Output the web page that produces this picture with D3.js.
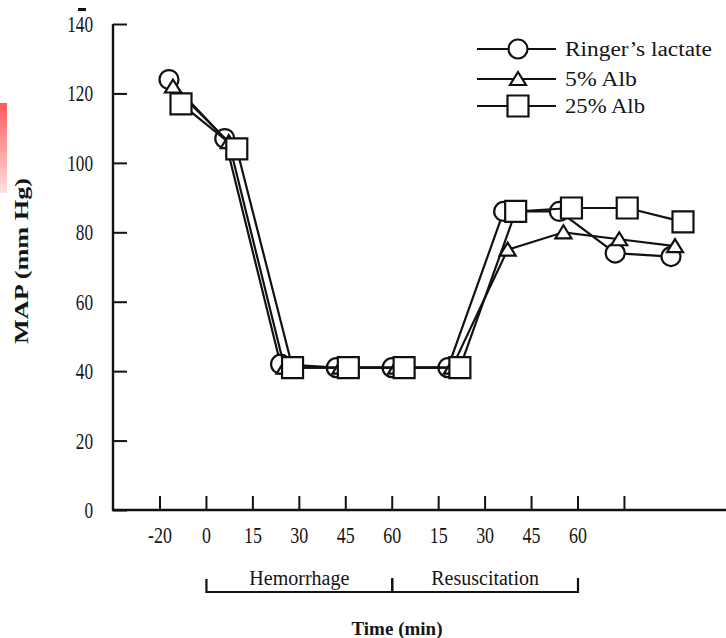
<!DOCTYPE html>
<html>
<head>
<meta charset="utf-8">
<script src="https://cdn.jsdelivr.net/npm/d3@7"></script>
<style>
  html, body { margin: 0; padding: 0; background: #fff; }
  svg { display: block; }
  text { font-family: "Liberation Serif", "Times New Roman", serif; fill: #151515; }
</style>
</head>
<body>
<svg id="chart" width="726" height="638"></svg>
<script>
// Time points (minutes) across the two study phases
const timeKeys   = ["b-20", "h0", "h15", "h30", "h45", "h60", "r15", "r30", "r45", "r60"];
const timeLabels = ["-20", "0", "15", "30", "45", "60", "15", "30", "45", "60"];

// Mean arterial pressure (mm Hg) per group
const ringers = [124, 107, 42, 41, 41, 41, 86, 86, 74, 73];
const alb5    = [122, 106, 41, 41, 41, 41, 75, 80, 78, 76];
const alb25   = [117, 104, 41, 41, 41, 41, 86, 87, 87, 83];

const seriesNames = ["Ringer\u2019s lactate", "5% Alb", "25% Alb"];
const yTicks = [0, 20, 40, 60, 80, 100, 120, 140];

const phases = [
  { name: "Hemorrhage",    from: 1, to: 5 },
  { name: "Resuscitation", from: 5, to: 9 }
];

const series = [
  { name: seriesNames[0], values: ringers, shape: "circle",   dx: -12 },
  { name: seriesNames[1], values: alb5,    shape: "triangle", dx: -8 },
  { name: seriesNames[2], values: alb25,   shape: "square",   dx: 0 }
];

const svg = d3.select("#chart");
const ink = "#111";

// narrow the glyphs of a text selection horizontally (tall, condensed type)
function condense(sel, factor) {
  sel.each(function () {
    const w = this.getComputedTextLength();
    d3.select(this).attr("textLength", w * factor).attr("lengthAdjust", "spacingAndGlyphs");
  });
}

// scales
const y = d3.scaleLinear().domain([0, 140]).range([510, 24]);
const xTick = d3.scaleLinear().domain([0, 9]).range([160, 578]);
const xData = d3.scalePoint().domain(timeKeys).range([181, 683]);

// y axis
const yAxis = d3.axisRight(y).tickValues(yTicks).tickSize(14).tickFormat("");
const gy = svg.append("g").attr("transform", "translate(113,0)").call(yAxis);
gy.select(".domain").remove();
gy.selectAll(".tick line").attr("stroke", ink).attr("stroke-width", 2);
svg.append("line").attr("x1", 113).attr("x2", 113).attr("y1", y(140)).attr("y2", y(0) + 1)
  .attr("stroke", ink).attr("stroke-width", 2.4);
svg.append("g").selectAll("text").data(yTicks).join("text")
  .attr("x", 93).attr("y", d => y(d) + 8)
  .attr("text-anchor", "end").attr("font-size", 23)
  .text(d => d)
  .call(condense, 0.75);

// x axis: baseline, inward ticks, labels
svg.append("line").attr("x1", 112).attr("x2", 726).attr("y1", y(0)).attr("y2", y(0))
  .attr("stroke", ink).attr("stroke-width", 2.4);
const tickIdx = d3.range(0, 11);
svg.append("g").selectAll("line").data(tickIdx).join("line")
  .attr("x1", d => xTick(d)).attr("x2", d => xTick(d))
  .attr("y1", y(0)).attr("y2", y(0) - 14)
  .attr("stroke", ink).attr("stroke-width", 2);
svg.append("g").selectAll("text").data(timeLabels).join("text")
  .attr("x", (d, i) => xTick(i)).attr("y", 543)
  .attr("text-anchor", "middle").attr("font-size", 23)
  .text(d => d)
  .call(condense, 0.78);

// phase brackets
const by = 592;
const gp = svg.append("g");
phases.forEach(p => {
  gp.append("path")
    .attr("d", `M${xTick(p.from)},${by - 13}V${by}H${xTick(p.to)}V${by - 14}`)
    .attr("fill", "none").attr("stroke", ink).attr("stroke-width", 2.2);
  gp.append("text")
    .attr("x", (xTick(p.from) + xTick(p.to)) / 2).attr("y", by - 7)
    .attr("text-anchor", "middle").attr("font-size", 20)
    .text(p.name);
});

// axis titles
svg.append("text").attr("x", 397).attr("y", 635)
  .attr("text-anchor", "middle").attr("font-size", 19).attr("font-weight", "bold")
  .text("Time (min)");
svg.append("text")
  .attr("transform", "translate(28,261) rotate(-90)")
  .attr("text-anchor", "middle").attr("font-size", 19).attr("font-weight", "bold")
  .attr("textLength", 166).attr("lengthAdjust", "spacingAndGlyphs")
  .text("MAP (mm Hg)");

// marker drawing
function drawMarker(g, shape, cx, cy) {
  const m = g.append(shape === "circle" ? "circle" : "path")
    .attr("fill", "#fff").attr("stroke", ink).attr("stroke-width", 2.2);
  if (shape === "circle") {
    m.attr("cx", cx).attr("cy", cy).attr("r", 9.5);
  } else if (shape === "triangle") {
    m.attr("d", `M${cx},${cy - 7}L${cx + 8},${cy + 6}L${cx - 8},${cy + 6}Z`);
  } else {
    m.attr("d", `M${cx - 10.5},${cy - 10.5}h21v21h-21Z`);
  }
}

const line = d3.line();
const plot = svg.append("g");
series.forEach(s => {
  const pts = s.values.map((v, i) => [xData(timeKeys[i]) + s.dx, y(v)]);
  const g = plot.append("g");
  g.append("path").attr("d", line(pts))
    .attr("fill", "none").attr("stroke", ink).attr("stroke-width", 2.2);
  pts.forEach(p => drawMarker(g, s.shape, p[0], p[1]));
});

// legend
const legendRows = [49, 79, 106];
const legendWidths = [147, 72, 80];
const lg = svg.append("g");
series.forEach((s, i) => {
  const ly = legendRows[i];
  lg.append("line").attr("x1", 477).attr("x2", 556).attr("y1", ly).attr("y2", ly)
    .attr("stroke", ink).attr("stroke-width", 2.2);
  drawMarker(lg, s.shape, 518, ly);
  lg.append("text").attr("x", 565).attr("y", ly + 7).attr("font-size", 20)
    .attr("textLength", legendWidths[i]).attr("lengthAdjust", "spacingAndGlyphs")
    .text(s.name);
});

// small marks near the edges of the sheet
svg.append("rect").attr("x", 78).attr("y", 8).attr("width", 8).attr("height", 3).attr("fill", "#111");
const grad = svg.append("defs").append("linearGradient").attr("id", "edge")
  .attr("x1", 0).attr("x2", 0).attr("y1", 0).attr("y2", 1);
grad.append("stop").attr("offset", 0).attr("stop-color", "#ff5a5a");
grad.append("stop").attr("offset", 1).attr("stop-color", "#ffe0e0");
svg.append("rect").attr("x", 0).attr("y", 103).attr("width", 7).attr("height", 90).attr("fill", "url(#edge)");
</script>
</body>
</html>
